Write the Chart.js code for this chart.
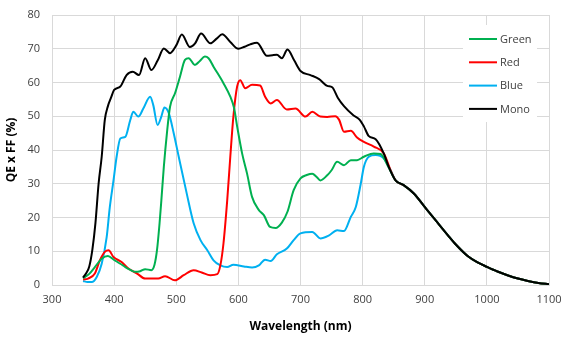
<!DOCTYPE html>
<html>
<head>
<meta charset="utf-8">
<script src="https://cdn.jsdelivr.net/npm/chart.js@4.4.0/dist/chart.umd.min.js"></script>
<style>
  html, body { margin: 0; padding: 0; background: #fff; }
  #wrap { width: 564px; height: 338px; position: relative; }
</style>
</head>
<body>
<div id="wrap"><canvas id="qeChart"></canvas></div>
<script>
// QE x FF (%) vs wavelength
const xTicks = [300, 400, 500, 600, 700, 800, 900, 1000, 1100];
const yTicks = [0, 10, 20, 30, 40, 50, 60, 70, 80];

// long-wavelength tail shared by all four curves
const tailNm = [853, 866, 882, 904, 920, 937, 950, 969, 985, 1001, 1017, 1033, 1050, 1066, 1083, 1100];
const tailQE = [31, 29.6, 27.2, 22.2, 18.6, 14.8, 12, 8.6, 6.7, 5.3, 4, 2.9, 1.9, 1.2, 0.6, 0.25];

const greenNm = [350, 360, 369, 380, 390, 400, 410, 418, 426, 434, 442, 450, 460, 465, 469, 473, 476, 480, 485, 490,
  498, 506, 514, 520, 530, 538, 546, 552, 560, 576, 587, 593, 598, 606, 614, 622, 633, 641, 651, 660, 670, 679, 689,
  700, 710, 719, 726, 732, 743, 750, 759, 770, 781, 791, 802, 818, 829, 840];
const greenQE = [2, 3.3, 5.3, 7.8, 8.6, 7.4, 6.3, 5.3, 4.5, 3.9, 4.1, 4.7, 4.4, 6, 10.3, 18, 25, 35, 45, 52.8,
  56.8, 61.7, 66.7, 67.2, 65.2, 66.4, 67.7, 67.2, 64.7, 59.8, 55.8, 52.5, 47, 39, 33, 26.1, 22.2, 20.7, 17.2, 16.9, 18.5, 21.7, 28.1,
  31.6, 32.6, 33, 32, 31, 32.5, 34, 36.5, 35.5, 37, 37, 38, 39, 38.8, 35.5];

const redNm = [350, 358, 369, 377, 385, 391, 399, 412, 423, 437, 450, 471, 482, 498, 512, 528, 541, 555, 566, 571,
  576, 582, 587, 592, 598, 603, 611, 622, 635, 643, 652, 662, 678, 692, 708, 719, 732, 743, 756, 762, 770, 781,
  791, 802, 818, 834, 845];
const redQE = [1.6, 1.9, 3.4, 7.3, 9.8, 10.3, 8.3, 6.8, 4.9, 3.4, 1.9, 1.9, 2.6, 1.4, 2.9, 4.4, 3.7, 2.9, 3.2, 5.8,
  12.3, 25, 38, 50, 58.8, 60.7, 58.3, 59.3, 59.1, 55.8, 53.8, 54.8, 52, 52.3, 49.9, 51.3, 49.9, 49.8, 50, 49, 45.4, 45.7,
  43.7, 42.4, 41, 39, 34];

const blueNm = [350, 357, 364, 372, 380, 388, 393, 399, 404, 410, 418, 426, 431, 439, 447, 458, 463, 470, 476, 481,
  488, 496, 504, 517, 528, 539, 550, 560, 571, 582, 592, 609, 622, 633, 643, 652, 662, 678, 689, 700, 719, 732,
  746, 759, 770, 781, 789, 797, 802, 810, 821, 834, 845];
const blueQE = [1.2, 0.9, 0.9, 2.4, 6.3, 14.2, 23, 31, 38, 43.4, 43.9, 48.9, 51.3, 49.9, 52.3, 55.8, 53.3, 47.4, 49.9, 52.6,
  50.9, 44.9, 38, 27, 18.3, 13.3, 10.3, 7.3, 5.8, 5.3, 6, 5.5, 5.2, 5.8, 7.5, 7.1, 9.1, 10.8, 13.3, 15.3, 15.7, 13.8,
  14.7, 16.2, 16, 20.2, 23.1, 30, 35, 38, 38.5, 37.5, 34];

const monoNm = [350, 355, 360, 365, 370, 375, 380, 385, 390, 395, 400, 410, 420, 430, 440, 450, 460, 470, 480, 490,
  500, 509, 522, 530, 540, 555, 565, 574, 587, 600, 610, 619, 630, 646, 655, 662, 670, 679, 690, 700, 716, 730,
  743, 751, 760, 770, 785, 795, 802, 810, 821, 834, 842];
const monoQE = [2.2, 3.5, 5.5, 10.5, 18.5, 30, 38, 48.9, 53, 55.5, 57.8, 58.8, 62.2, 63.2, 62.2, 67.2, 63.7, 66.5, 70.1, 68.7,
  71, 74.2, 70.5, 71.5, 74.5, 71.6, 73, 74.3, 72, 70, 70.6, 71.3, 71.8, 67.9, 68.1, 68.2, 67.2, 69.8, 66.5, 63.4, 62.2, 61,
  59, 58.6, 55.5, 53, 50.3, 49, 47, 44.1, 43.2, 39, 35];

const seriesNames = ['Green', 'Red', 'Blue', 'Mono'];
const seriesColors = ['#00b050', '#ff0000', '#00b0f0', '#000000'];

function toPoints(nm, qe) {
  const all = nm.concat(tailNm);
  const vals = qe.concat(tailQE);
  return all.map((x, i) => ({ x: x, y: vals[i] }));
}

const pointSets = [
  toPoints(greenNm, greenQE),
  toPoints(redNm, redQE),
  toPoints(blueNm, blueQE),
  toPoints(monoNm, monoQE)
];

// legend drawn inside the plot, top right, on a white box
const boxLegend = {
  id: 'boxLegend',
  afterDatasetsDraw(chart) {
    const { ctx, chartArea } = chart;
    const left = chartArea.right - 86;
    const top = chartArea.top + 10;
    ctx.save();
    ctx.fillStyle = '#ffffff';
    ctx.fillRect(left, top, 74, 97);
    ctx.font = '11px "Open Sans"';
    ctx.textBaseline = 'middle';
    chart.data.datasets.forEach((ds, i) => {
      const y = top + 14 + i * 23.3;
      ctx.strokeStyle = ds.borderColor;
      ctx.lineWidth = 2;
      ctx.beginPath();
      ctx.moveTo(left + 6, y);
      ctx.lineTo(left + 34, y);
      ctx.stroke();
      ctx.fillStyle = '#404040';
      ctx.fillText(ds.label, left + 37, y + 0.5);
    });
    ctx.restore();
  }
};

const ctx = document.getElementById('qeChart').getContext('2d');
new Chart(ctx, {
  type: 'line',
  data: {
    datasets: seriesNames.map((name, i) => ({
      label: name,
      data: pointSets[i],
      borderColor: seriesColors[i],
      backgroundColor: seriesColors[i],
      borderWidth: 2,
      pointRadius: 0,
      cubicInterpolationMode: 'monotone',
      fill: false,
      order: name === 'Mono' ? 0 : 1
    }))
  },
  options: {
    responsive: true,
    maintainAspectRatio: false,
    animation: false,
    layout: { padding: { top: 15, right: 15, left: 0, bottom: 0 } },
    plugins: {
      legend: { display: false },
      tooltip: { enabled: false }
    },
    scales: {
      x: {
        type: 'linear',
        min: xTicks[0],
        max: xTicks[xTicks.length - 1],
        afterBuildTicks: (s) => { s.ticks = xTicks.map(v => ({ value: v })); },
        afterFit: (s) => { s.height = 53; s.paddingLeft = 0; s.paddingRight = 0; },
        grid: { color: '#d9d9d9', lineWidth: 1, drawTicks: false },
        border: { color: '#d9d9d9' },
        ticks: {
          color: '#404040',
          font: { family: 'Open Sans', size: 11 },
          padding: 8,
          callback: (v) => String(v)
        },
        title: {
          display: true,
          text: 'Wavelength (nm)',
          color: '#000000',
          font: { family: 'Open Sans', size: 12, weight: 'bold' },
          padding: { top: 6 }
        }
      },
      y: {
        min: yTicks[0],
        max: yTicks[yTicks.length - 1],
        afterBuildTicks: (s) => { s.ticks = yTicks.map(v => ({ value: v })); },
        afterFit: (s) => { s.width = 52; s.paddingTop = 0; s.paddingBottom = 0; },
        grid: { color: '#d9d9d9', lineWidth: 1, drawTicks: false },
        border: { color: '#d9d9d9' },
        ticks: { color: '#404040', font: { family: 'Open Sans', size: 11 }, padding: 12 },
        title: {
          display: true,
          text: 'QE x FF (%)',
          color: '#000000',
          font: { family: 'Open Sans', size: 12, weight: 'bold' },
          padding: { bottom: 2 }
        }
      }
    }
  },
  plugins: [boxLegend]
});
</script>
</body>
</html>
